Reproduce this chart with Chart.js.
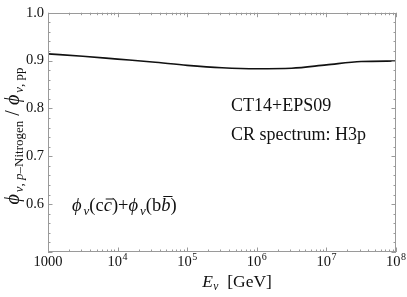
<!DOCTYPE html>
<html>
<head>
<meta charset="utf-8">
<script src="https://cdn.jsdelivr.net/npm/chart.js@4.4.1/dist/chart.umd.min.js"></script>
<style>
  html, body { margin: 0; padding: 0; background: #fff; }
  #wrap { width: 407px; height: 297px; }
</style>
</head>
<body>
<div id="wrap"><canvas id="c" width="407" height="297"></canvas></div>
<script>
// ---- data ----
const energies = [1000, 3162, 10000, 31623, 100000, 316228, 1000000, 3162278, 10000000, 31622777, 100000000];
const ratio    = [0.914, 0.909, 0.903, 0.897, 0.890, 0.885, 0.883, 0.884, 0.891, 0.898, 0.899];
const xTickExponents = [3, 4, 5, 6, 7, 8];
const yTickValues = [0.6, 0.7, 0.8, 0.9, 1.0];
const annotation1 = "CT14+EPS09";
const annotation2 = "CR spectrum: H3p";

const SERIF = '"Liberation Serif", "DejaVu Serif", serif';
const TXT = '#111';
const FRAME = '#9a9a9a';

function drawRuns(ctx, runs, x, baseline) {
  let cx = x;
  for (const r of runs) {
    ctx.font = r.font;
    const w = ctx.measureText(r.t).width;
    ctx.fillText(r.t, cx + (r.dx || 0), baseline + (r.dy || 0));
    if (r.over) {
      ctx.save();
      ctx.strokeStyle = TXT; ctx.lineWidth = 1;
      ctx.beginPath();
      ctx.moveTo(cx + 2, baseline + r.over);
      ctx.lineTo(cx + w + 2, baseline + r.over);
      ctx.stroke();
      ctx.restore();
    }
    cx += w + (r.dx || 0) + (r.gap || 0);
  }
  return cx - x;
}
function runsWidth(ctx, runs) {
  let w = 0;
  for (const r of runs) { ctx.font = r.font; w += ctx.measureText(r.t).width + (r.dx || 0) + (r.gap || 0); }
  return w;
}

const framePlugin = {
  id: 'framePlugin',
  afterDraw(chart) {
    const ctx = chart.ctx;
    const xs = chart.scales.x, ys = chart.scales.y;
    const a = chart.chartArea;
    ctx.save();
    ctx.strokeStyle = FRAME; ctx.lineWidth = 1;
    ctx.strokeRect(Math.round(a.left) + 0.5, Math.round(a.top) + 0.5,
                   Math.round(a.right - a.left) - 1, Math.round(a.bottom - a.top) - 1);
    ctx.beginPath();
    for (let e = 3; e <= 8; e++) {
      for (let k = 1; k <= 9; k++) {
        const v = k * Math.pow(10, e);
        if (v > 1e8 * 1.0001) break;
        const px = Math.round(xs.getPixelForValue(v)) + 0.5;
        const len = (k === 1) ? 4.5 : 2.5;
        ctx.moveTo(px, a.bottom); ctx.lineTo(px, a.bottom - len);
        ctx.moveTo(px, a.top); ctx.lineTo(px, a.top + len);
      }
    }
    for (let i = 0; i <= 25; i++) {
      const v = 0.5 + i * 0.02;
      const py = Math.round(ys.getPixelForValue(v)) + 0.5;
      const len = (i % 5 === 0) ? 4.5 : 2.5;
      ctx.moveTo(a.left, py); ctx.lineTo(a.left + len, py);
      ctx.moveTo(a.right, py); ctx.lineTo(a.right - len, py);
    }
    ctx.stroke();

    ctx.fillStyle = TXT;
    ctx.textBaseline = 'alphabetic';
    ctx.textAlign = 'left';
    for (const e of xTickExponents) {
      const px = xs.getPixelForValue(Math.pow(10, e));
      let runs;
      if (e === 3) runs = [{t: '1000', font: '14.5px ' + SERIF}];
      else runs = [{t: '10', font: '14.5px ' + SERIF}, {t: String(e), font: '10px ' + SERIF, dy: -6, dx: 0.5}];
      const w = runsWidth(ctx, runs);
      drawRuns(ctx, runs, px - w / 2, 266);
    }
    const xt = [
      {t: 'E', font: 'italic 17.5px ' + SERIF},
      {t: 'ν', font: 'italic 11.5px ' + SERIF, dy: 3, dx: 0.5},
      {t: '  [GeV]', font: '17.5px ' + SERIF}
    ];
    const xtw = runsWidth(ctx, xt);
    drawRuns(ctx, xt, 237 - xtw / 2, 287);

    const yt = [
      {t: 'ϕ', font: 'italic 20px ' + SERIF, gap: 2},
      {t: 'ν', font: 'italic 13px ' + SERIF, dy: 4},
      {t: ', ', font: '13px ' + SERIF, dy: 4},
      {t: 'p', font: 'italic 13px ' + SERIF, dy: 4},
      {t: '–Nitrogen', font: '13px ' + SERIF, dy: 4},
      {t: ' / ', font: '20px ' + SERIF},
      {t: 'ϕ', font: 'italic 20px ' + SERIF, gap: 2},
      {t: 'ν', font: 'italic 13px ' + SERIF, dy: 4},
      {t: ', ', font: '13px ' + SERIF, dy: 4},
      {t: 'pp', font: '13px ' + SERIF, dy: 4}
    ];
    const ytw = runsWidth(ctx, yt);
    ctx.save();
    ctx.translate(18.5, 136);
    ctx.rotate(-Math.PI / 2);
    drawRuns(ctx, yt, -ytw / 2, 0);
    ctx.restore();

    ctx.font = '18px ' + SERIF;
    ctx.fillText(annotation1, 231, 111);
    ctx.fillText(annotation2, 231, 140);

    const fm = [
      {t: 'ϕ', font: 'italic 18.5px ' + SERIF, gap: 2},
      {t: 'ν', font: 'italic 13px ' + SERIF, dy: 4},
      {t: '(c', font: '18.5px ' + SERIF},
      {t: 'c', font: 'italic 18.5px ' + SERIF, over: -12},
      {t: ')+', font: '18.5px ' + SERIF},
      {t: 'ϕ', font: 'italic 18.5px ' + SERIF, gap: 2},
      {t: 'ν', font: 'italic 13px ' + SERIF, dy: 4},
      {t: '(b', font: '18.5px ' + SERIF},
      {t: 'b', font: 'italic 18.5px ' + SERIF, over: -14.5},
      {t: ')', font: '18.5px ' + SERIF}
    ];
    drawRuns(ctx, fm, 72, 211);
    ctx.restore();
  }
};

new Chart(document.getElementById('c'), {
  type: 'line',
  data: {
    datasets: [{
      data: energies.map((e, i) => ({x: e, y: ratio[i]})),
      borderColor: '#111',
      borderWidth: 1.6,
      pointRadius: 0,
      fill: false,
      cubicInterpolationMode: 'monotone'
    }]
  },
  options: {
    responsive: false,
    devicePixelRatio: 1,
    animation: false,
    layout: { padding: { top: 7, right: 11, left: 0, bottom: 0 } },
    plugins: { legend: { display: false }, tooltip: { enabled: false } },
    scales: {
      x: {
        type: 'logarithmic', min: 1000, max: 1e8,
        ticks: { display: false },
        grid: { display: false, drawTicks: false },
        border: { display: false },
        afterFit: s => { s.height = 45; }
      },
      y: {
        min: 0.5, max: 1.0,
        afterBuildTicks: s => { s.ticks = [0.5].concat(yTickValues).map(v => ({value: v})); },
        ticks: {
          callback: v => (Math.abs(v - 0.5) < 1e-9 ? '' : Number(v).toFixed(1)),
          font: { family: SERIF, size: 14.5 },
          color: TXT,
          padding: 4
        },
        grid: { display: false, drawTicks: false },
        border: { display: false },
        afterFit: s => { s.width = 48; }
      }
    }
  },
  plugins: [framePlugin]
});
</script>
</body>
</html>
